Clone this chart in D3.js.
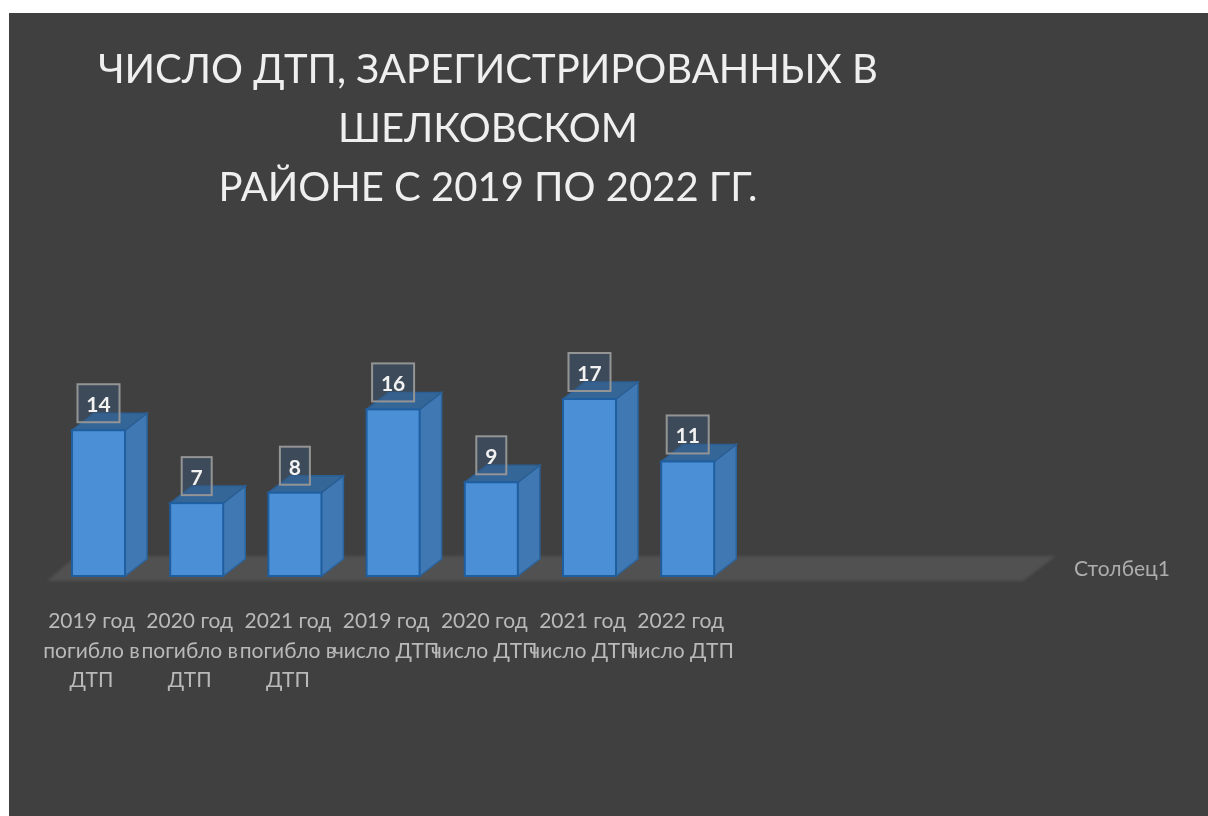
<!DOCTYPE html>
<html>
<head>
<meta charset="utf-8">
<script src="https://cdn.jsdelivr.net/npm/d3@7"></script>
<style>
html, body { margin: 0; padding: 0; background: #fff; overflow: hidden; }
svg { display: block; filter: blur(0.7px); }
text { font-family: Lato, "Open Sans", sans-serif; }
</style>
</head>
<body>
<div id="chart"></div>
<script>
const titleLines = ["ЧИСЛО ДТП, ЗАРЕГИСТРИРОВАННЫХ В", "ШЕЛКОВСКОМ", "РАЙОНЕ С 2019 ПО 2022 ГГ."];
const categories = ["2019 год погибло в ДТП", "2020 год погибло в ДТП", "2021 год погибло в ДТП",
    "2019 год число ДТП", "2020 год число ДТП", "2021 год число ДТП", "2022 год число ДТП"];
const categoryLines = [
    ["2019 год", "погибло в", "ДТП"], ["2020 год", "погибло в", "ДТП"], ["2021 год", "погибло в", "ДТП"],
    ["2019 год", "число ДТП"], ["2020 год", "число ДТП"], ["2021 год", "число ДТП"], ["2022 год", "число ДТП"]
];
const values = [14, 7, 8, 16, 9, 17, 11];
const seriesName = "Столбец1";

const width = 1208, height = 816;
const baseY = 576;
const depthX = 22, depthY = -17;

const svg = d3.select("#chart").append("svg")
    .attr("width", width)
    .attr("height", height);

svg.append("rect")
    .attr("x", 9).attr("y", 13)
    .attr("width", width - 9).attr("height", height - 13)
    .attr("fill", "#404040");

const xscale = d3.scaleBand()
    .domain(categories)
    .range([49.4, 736.8])
    .paddingInner(0.46)
    .paddingOuter(0.23);

const yscale = d3.scaleLinear()
    .domain([0, 17])
    .range([baseY, 399]);

// floor
svg.append("path")
    .attr("d", "M47,581 L1023,581 L1056,556 L76,556 Z")
    .attr("fill", "#515151")
    .style("filter", "blur(1.5px)");

svg.append("text")
    .attr("x", 1074).attr("y", 576)
    .attr("fill", "#adadad")
    .attr("font-size", 21)
    .text(seriesName);

// title
svg.append("g").selectAll("text")
    .data(titleLines)
    .join("text")
    .attr("x", 488)
    .attr("y", (d, i) => 83 + i * 58.8)
    .attr("text-anchor", "middle")
    .attr("fill", "#efefef")
    .attr("font-size", 40)
    .text(d => d);

// bars
const bars = svg.append("g").selectAll("g")
    .data(categories)
    .join("g");

const bw = xscale.bandwidth();

bars.append("path")
    .attr("d", (d, i) => {
        const x = xscale(d) + bw, y = yscale(values[i]);
        return `M${x},${y} L${x + depthX},${y + depthY} L${x + depthX},${baseY + depthY} L${x},${baseY} Z`;
    })
    .attr("fill", "#3f78b2")
    .attr("stroke", "#2b659f")
    .attr("stroke-width", 1.5);

bars.append("path")
    .attr("d", (d, i) => {
        const x = xscale(d), y = yscale(values[i]);
        return `M${x},${y} L${x + depthX},${y + depthY} L${x + bw + depthX},${y + depthY} L${x + bw},${y} Z`;
    })
    .attr("fill", "#346698")
    .attr("stroke", "#2b5f94")
    .attr("stroke-width", 1.5);

bars.append("rect")
    .attr("x", d => xscale(d))
    .attr("y", (d, i) => yscale(values[i]))
    .attr("width", bw)
    .attr("height", (d, i) => baseY - yscale(values[i]))
    .attr("fill", "#4b8fd6")
    .attr("stroke", "#1f5f9f")
    .attr("stroke-width", 2);

// data labels
const boxH = 38;
bars.append("rect")
    .attr("x", (d, i) => xscale(d) + bw / 2 - (values[i] > 9 ? 21 : 15))
    .attr("y", (d, i) => yscale(values[i]) - 8 - boxH)
    .attr("width", (d, i) => values[i] > 9 ? 42 : 30)
    .attr("height", boxH)
    .attr("fill", "#3a5a80")
    .attr("fill-opacity", 0.4)
    .attr("stroke", "#949494")
    .attr("stroke-width", 2);

bars.append("text")
    .attr("x", d => xscale(d) + bw / 2)
    .attr("y", (d, i) => yscale(values[i]) - 8 - boxH / 2 + 9)
    .attr("text-anchor", "middle")
    .attr("fill", "#f2f2f2")
    .attr("font-size", 21)
    .attr("font-weight", 700)
    .text((d, i) => values[i]);

// category labels, sitting a little left of the bars as in the picture
const xaxis = d3.axisBottom(xscale).tickSize(0).tickFormat("");
const xaxis_group = svg.append("g")
    .attr("transform", "translate(-7, 600)")
    .call(xaxis);
xaxis_group.select(".domain").remove();

xaxis_group.selectAll(".tick text")
    .attr("fill", "#b9b9b9")
    .attr("font-size", 21)
    .attr("y", 28)
    .attr("dy", 0)
    .each(function (d, i) {
        d3.select(this).selectAll("tspan")
            .data(categoryLines[i])
            .join("tspan")
            .attr("x", 0)
            .attr("y", (t, j) => 28 + j * 29.5)
            .text(t => t);
    });
</script>
</body>
</html>
